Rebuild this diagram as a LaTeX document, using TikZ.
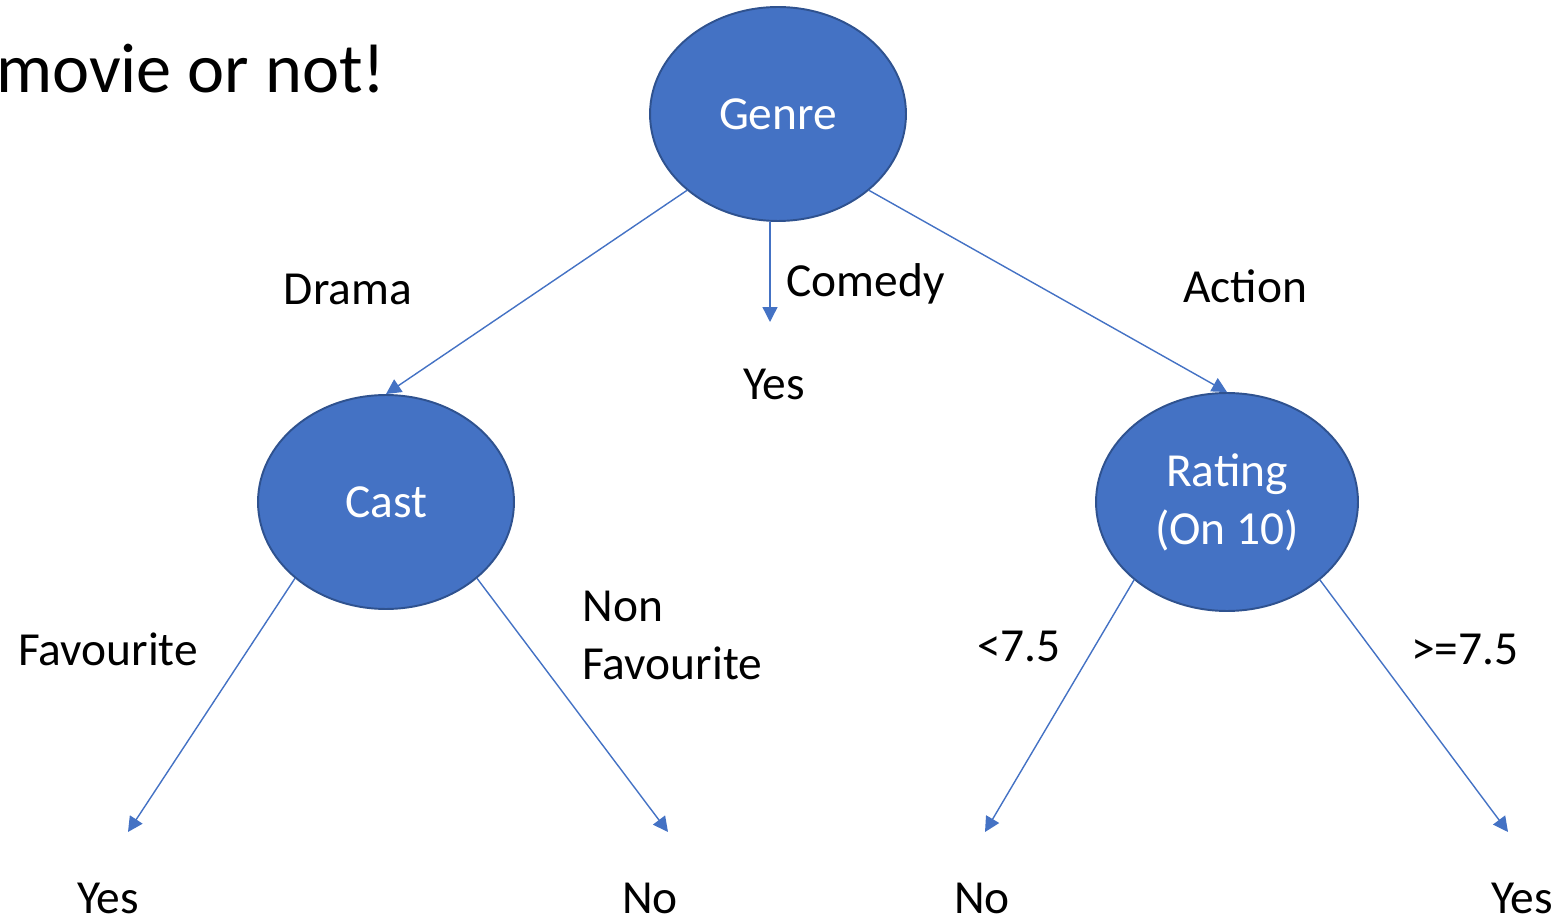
\documentclass[tikz,border=0pt]{standalone}
\usepackage{fontspec}
\setmainfont{Carlito}
\usetikzlibrary{arrows.meta,shapes.geometric}

\definecolor{nodeblue}{HTML}{4472C4}
\definecolor{nodeedge}{HTML}{2F528F}

\tikzset{
  decision/.style={ellipse, draw=nodeedge, line width=1.1pt, fill=nodeblue,
    text=white, minimum width=5.12cm, minimum height=4.28cm, inner sep=0pt,
    align=center},
  branch/.style={draw=nodeblue, line width=0.8pt,
    -{Triangle[length=0.3cm,width=0.3cm]}},
  lab/.style={anchor=base, inner sep=0pt, align=left}
}

\begin{document}
\begin{tikzpicture}[x=0.02cm, y=-0.02cm, every node/.style={font=\fontsize{27}{33}\selectfont}, line cap=round]
  \useasboundingbox (0,0) rectangle (1568,918);

  \node[anchor=base east, inner sep=0pt, font=\fontsize{40}{48}\selectfont] (title) at (386,93) {movie or not!};

  % decision nodes
  \node[decision] (genre) at (778,114) {Genre};
  \node[decision] (cast) at (386,502) {Cast};
  \node[decision, minimum width=5.24cm, minimum height=4.36cm] (rating) at (1227,502) {Rating\\(On 10)};

  % free ends
  \coordinate (comedy) at (770,322);
  \coordinate (castyes) at (128,832);
  \coordinate (castno) at (668,832);
  \coordinate (ratno) at (985,832);
  \coordinate (ratyes) at (1508,832);

  \draw[branch] (genre.220) -- (cast.north);
  \draw[branch] (genre.south -| comedy) -- (comedy);
  \draw[branch] (genre.320) -- (rating.north);
  \foreach \src/\dst in {cast.220/castyes, cast.320/castno, rating.220/ratno, rating.320/ratyes}
    \draw[branch] (\src) -- (\dst);

  % edge labels
  \node[lab] (ldrama) at (348,305) {Drama};
  \node[lab, anchor=base west] (lcomedy) at (786,297) {Comedy};
  \node[lab] (laction) at (1245,303) {Action};
  \node[lab] (lyes) at (774,400) {Yes};
  \node[lab] (lfav) at (108,665) {Favourite};
  \node[lab, anchor=base west] (lnonfav) at (582,679) {Non\\Favourite};
  \node[lab] (llow) at (1019,661) {<7.5};
  \node[lab] (lhigh) at (1465,664) {>=7.5};

  % leaves
  \foreach \p/\lab in {108/Yes, 650/No, 982/No, 1522/Yes}
    \node[lab] at (\p,913) {\lab};
\end{tikzpicture}
\end{document}
